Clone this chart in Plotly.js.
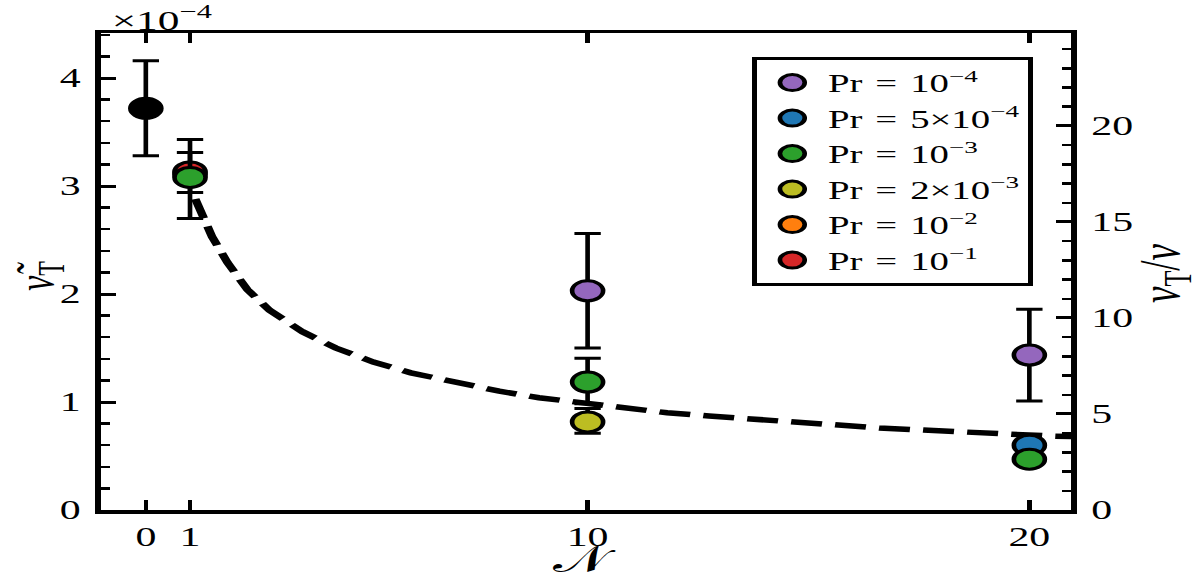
<!DOCTYPE html>
<html>
<head>
<meta charset="utf-8">
<script src="https://cdn.plot.ly/plotly-3.0.1.min.js"></script>
<style>
  html, body { margin: 0; padding: 0; background: #fff; overflow: hidden; }
  #wrap { width: 1200px; height: 579px; overflow: hidden; }
  #plot { width: 774px; height: 579px; transform: scale(1.5504, 1); transform-origin: 0 0; }
</style>
</head>
<body>
<div id="wrap"><div id="plot"></div></div>
<script>
// values of nu_T tilde, in units of 1e-4
const blackN = [0];
const blackY = [3.72];
const blackErr = [0.44];

const purpleN = [10, 20];
const purpleY = [2.03, 1.435];
const purpleErr = [0.53, 0.425];

const blueN = [20];
const blueY = [0.60];

const greenN = [1, 10, 20];
const greenY = [3.08, 1.185, 0.47];
const greenErrPlus = [0.35, 0.22, 0.0];
const greenErrMinus = [0.38, 0.20, 0.0];

const yellowN = [10];
const yellowY = [0.815];
const yellowErrPlus = [0.125];
const yellowErrMinus = [0.105];

const orangeN = [1];
const orangeY = [3.11];

const redN = [1];
const redY = [3.13];
const redErrPlus = [0.18];
const redErrMinus = [0.19];

// dashed fit curve
const fitN = [1.12, 1.3, 1.5, 1.85, 2.3, 2.8, 3.55, 4.3, 5.15, 6.0, 7.0, 8.0, 8.9, 9.9, 10.9, 11.8, 12.75, 13.7, 14.7, 15.6, 16.6, 17.6, 18.5, 19.5, 20.5, 20.95];
const fitY = [2.88, 2.70, 2.53, 2.29, 2.04, 1.85, 1.65, 1.50, 1.37, 1.27, 1.18, 1.10, 1.04, 0.99, 0.94, 0.90, 0.87, 0.84, 0.815, 0.79, 0.76, 0.74, 0.72, 0.70, 0.685, 0.68];

const xTicks = [0, 1, 10, 20];
const SP = '\u2004';
const legendLabels = [
  'Pr' + SP + '=' + SP + '10<sup>\u22124</sup>',
  'Pr' + SP + '=' + SP + '5\u00d710<sup>\u22124</sup>',
  'Pr' + SP + '=' + SP + '10<sup>\u22123</sup>',
  'Pr' + SP + '=' + SP + '2\u00d710<sup>\u22123</sup>',
  'Pr' + SP + '=' + SP + '10<sup>\u22122</sup>',
  'Pr' + SP + '=' + SP + '10<sup>\u22121</sup>'
];
const colors = {
  purple: '#9467bd', blue: '#1f77b4', green: '#2ca02c',
  yellow: '#bcbd22', orange: '#ff7f0e', red: '#d62728'
};

const FONT = 'Liberation Serif, Times New Roman, serif';
const MS = 20;
const mk = (c) => ({ size: MS, color: c, line: { color: 'black', width: 3 } });
const eb = (plus, minus) => ({
  type: 'data', symmetric: minus === undefined, array: plus,
  arrayminus: minus, color: 'black', thickness: 3, width: 8.5
});

const traces = [
  { x: fitN, y: fitY, mode: 'lines', line: { color: 'black', width: 5.5, dash: '20px,8.5px', shape: 'linear' }, showlegend: false, hoverinfo: 'skip' },
  { x: blackN, y: blackY, mode: 'markers', marker: mk('black'), error_y: eb(blackErr), showlegend: false },
  { x: purpleN, y: purpleY, mode: 'markers', marker: mk(colors.purple), error_y: eb(purpleErr), name: legendLabels[0], legendrank: 1 },
  { x: blueN, y: blueY, mode: 'markers', marker: mk(colors.blue), name: legendLabels[1], legendrank: 2 },
  { x: yellowN, y: yellowY, mode: 'markers', marker: mk(colors.yellow), error_y: eb(yellowErrPlus, yellowErrMinus), name: legendLabels[3], legendrank: 4 },
  { x: orangeN, y: orangeY, mode: 'markers', marker: mk(colors.orange), name: legendLabels[4], legendrank: 5 },
  { x: redN, y: redY, mode: 'markers', marker: mk(colors.red), error_y: eb(redErrPlus, redErrMinus), name: legendLabels[5], legendrank: 6 },
  { x: greenN, y: greenY, mode: 'markers', marker: mk(colors.green), error_y: eb(greenErrPlus, greenErrMinus), name: legendLabels[2], legendrank: 3 },
  { x: [0], y: [0], yaxis: 'y2', mode: 'markers', marker: { opacity: 0 }, showlegend: false, hoverinfo: 'skip' }
];

const axisCommon = {
  showline: true, linecolor: 'black', linewidth: 3.5,
  ticks: 'inside', tickcolor: 'black', tickwidth: 3, ticklen: 10,
  showgrid: false, zeroline: false,
  tickfont: { family: FONT, size: 27, color: 'black' }
};

const layout = {
  width: 774, height: 579,
  margin: { l: 65, r: 83, t: 33, b: 69, pad: 0 },
  paper_bgcolor: 'white', plot_bgcolor: 'white',
  showlegend: true,
  hovermode: false,
  xaxis: Object.assign({}, axisCommon, {
    range: [-1.02, 20.95], tickmode: 'array', tickvals: xTicks,
    ticktext: xTicks.map(String), mirror: 'ticks'
  }),
  yaxis: Object.assign({}, axisCommon, {
    range: [0, 4.417], tickmode: 'linear', tick0: 0, dtick: 1,
    minor: { dtick: 0.2, ticks: 'inside', ticklen: 6, tickwidth: 2.5, tickcolor: 'black' },
    ticklabelstandoff: 4
  }),
  yaxis2: Object.assign({}, axisCommon, {
    range: [0, 24.84], overlaying: 'y', side: 'right', tickmode: 'linear', tick0: 0, dtick: 5,
    minor: { dtick: 1, ticks: 'inside', ticklen: 6, tickwidth: 2.5, tickcolor: 'black' },
    ticklabelstandoff: 4
  }),
  legend: {
    x: 0.671, y: 0.950, xanchor: 'left', yanchor: 'top',
    bgcolor: 'white', bordercolor: 'black', borderwidth: 3,
    font: { family: FONT, size: 25, color: 'black' },
    itemsizing: 'trace', traceorder: 'normal', itemwidth: 36
  },
  annotations: [
    { xref: 'paper', yref: 'paper', x: 0.008, y: 1, xanchor: 'left', yanchor: 'bottom', yshift: -5,
      text: '\u00d710<sup>\u22124</sup>', showarrow: false, font: { family: FONT, size: 28, color: 'black' } },
    { xref: 'paper', yref: 'paper', x: -0.063, y: 0.49, xanchor: 'center', yanchor: 'middle', textangle: -90,
      text: '<i>\u03bd\u0303</i><sub>T</sub>', showarrow: false, font: { family: FONT, size: 34, color: 'black' } },
    { xref: 'paper', yref: 'paper', x: 1.096, y: 0.497, xanchor: 'center', yanchor: 'middle', textangle: -90,
      text: '<i>\u03bd</i><sub>T</sub>/<i>\u03bd</i>', showarrow: false, font: { family: FONT, size: 37, color: 'black' } },
    { xref: 'paper', yref: 'paper', x: 0.499, y: -0.104, xanchor: 'center', yanchor: 'middle',
      text: '\ud835\udca9', showarrow: false, font: { family: FONT, size: 37, color: 'black' } }
  ]
};

Plotly.newPlot('plot', traces, layout, { displayModeBar: false, staticPlot: true });
</script>
</body>
</html>
